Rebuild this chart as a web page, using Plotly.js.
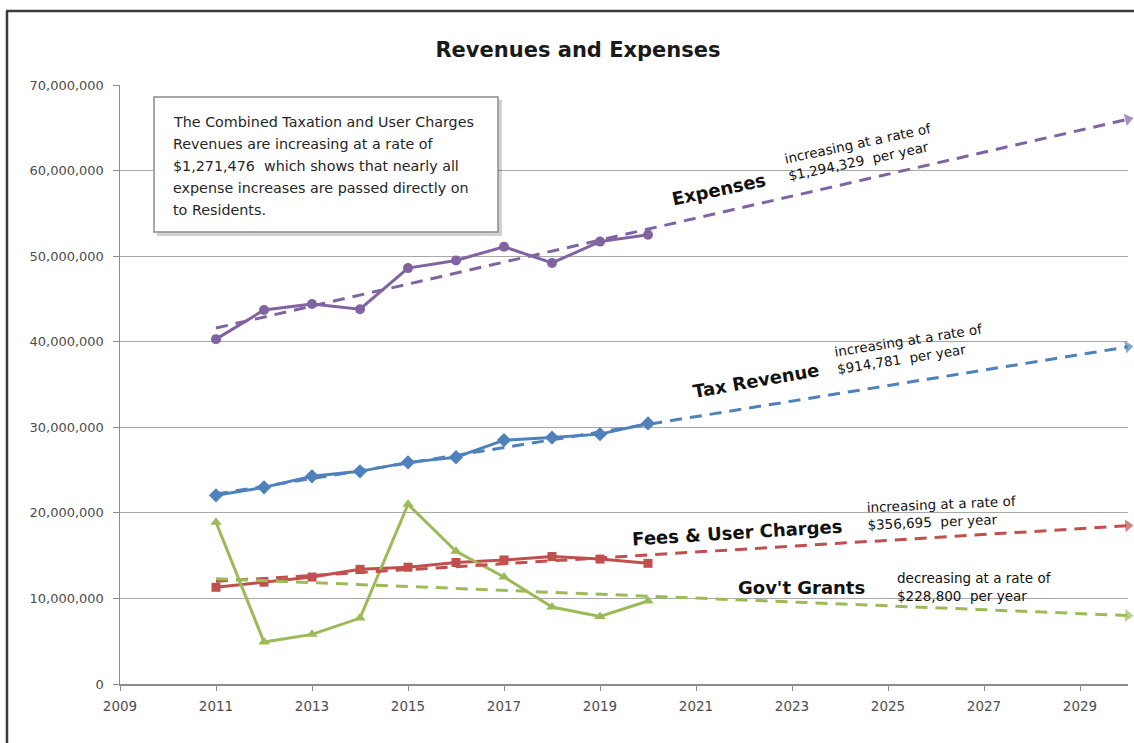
<!DOCTYPE html>
<html>
<head>
<meta charset="utf-8">
<script src="https://cdn.plot.ly/plotly-3.0.1.min.js"></script>
<style>html,body{margin:0;padding:0;background:#fff;}#chart{width:1134px;height:743px;}</style>
</head>
<body>
<div id="chart"></div>
<script>
// ---- data ----
const years = [2011, 2012, 2013, 2014, 2015, 2016, 2017, 2018, 2019, 2020];
const expenses    = [40300000, 43700000, 44400000, 43800000, 48600000, 49500000, 51100000, 49200000, 51700000, 52500000];
const taxRevenue  = [22050000, 22980000, 24270000, 24850000, 25900000, 26500000, 28500000, 28800000, 29200000, 30450000];
const feesCharges = [11300000, 11900000, 12500000, 13400000, 13650000, 14200000, 14500000, 14900000, 14600000, 14100000];
const govGrants   = [18900000, 4900000, 5800000, 7700000, 21000000, 15500000, 12500000, 9000000, 7900000, 9700000];

const trendYears    = [2011, 2030];
const expensesTrend = [41600000, 66000000];
const taxTrend      = [22200000, 39400000];
const feesTrend     = [12000000, 18500000];
const grantsTrend   = [12300000, 8000000];

const xTickVals = [2009, 2011, 2013, 2015, 2017, 2019, 2021, 2023, 2025, 2027, 2029];
const yTickVals = [0, 10000000, 20000000, 30000000, 40000000, 50000000, 60000000, 70000000];

const boxLines = [
  "The Combined Taxation and User Charges",
  "Revenues are increasing at a rate of",
  "$1,271,476  which shows that nearly all",
  "expense increases are passed directly on",
  "to Residents."
];

// ---- styling ----
const C = {purple:'#8064A2', blue:'#4F81BD', red:'#C0504D', green:'#9BBB59'};
const FONT = 'DejaVu Sans';
const L = 120, R = 1128, T = 85, B = 684;
const px = x => (x - L) / (R - L);
const py = y => (B - y) / (B - T);

function series(y, color, symbol, size) {
  return {x: years, y: y, type: 'scatter', mode: 'lines+markers',
    line: {color: color, width: 3},
    marker: {color: color, symbol: symbol, size: size, line: {width: 0}},
    hoverinfo: 'skip'};
}
function trend(y, color) {
  return {x: trendYears, y: y, type: 'scatter', mode: 'lines+markers', cliponaxis: false,
    line: {color: color, width: 3, dash: '12px,8px'},
    marker: {color: color, symbol: 'triangle-up', size: [0, 11], angleref: 'previous', line: {width: 0}},
    hoverinfo: 'skip'};
}

const data = [
  series(expenses, C.purple, 'circle', 10),
  series(taxRevenue, C.blue, 'diamond', 11),
  series(feesCharges, C.red, 'square', 9),
  series(govGrants, C.green, 'triangle-up', 10),
  trend(expensesTrend, C.purple),
  trend(taxTrend, C.blue),
  trend(feesTrend, C.red),
  trend(grantsTrend, C.green)
];

const ann = [];
function label(text, x, y, angle, size, bold, opts) {
  ann.push(Object.assign({
    text: bold ? '<b>' + text + '</b>' : text,
    xref: 'paper', yref: 'paper', x: px(x), y: py(y),
    xanchor: 'center', yanchor: 'middle', showarrow: false,
    textangle: angle, align: 'left',
    font: {family: FONT, size: size, color: '#111'}
  }, opts || {}));
}
label('Expenses', 718, 189, -12, 18, true);
label('increasing at a rate of<br>$1,294,329  per year', 860, 152, -12, 13.5, false);
label('Tax Revenue', 756, 380, -10, 18, true);
label('increasing at a rate of<br>$914,781  per year', 910, 349, -9, 13.5, false);
label('Fees &amp; User Charges', 737, 532, -3.5, 18, true);
label('increasing at a rate of<br>$356,695  per year', 942, 513, -2.5, 13.5, false);
label("Gov't Grants", 801, 587, 0, 18, true);
label('decreasing at a rate of<br>$228,800  per year', 895, 587, 0, 13.5, false, {xanchor: 'left'});

const boxY = [122, 144, 166, 188, 210];
boxLines.forEach((t, i) => {
  ann.push({text: t, xref: 'paper', yref: 'paper', x: px(171), y: py(boxY[i]),
    xanchor: 'left', yanchor: 'middle', showarrow: false, align: 'left',
    font: {family: FONT, size: 14.3, color: '#262626'}});
});

const shapes = [
  // outer frame
  {type: 'line', xref: 'paper', yref: 'paper', x0: px(7), x1: px(7), y0: py(760), y1: py(11), line: {color: '#3a3a3a', width: 2.5}},
  {type: 'line', xref: 'paper', yref: 'paper', x0: px(6), x1: px(1150), y0: py(11), y1: py(11), line: {color: '#3a3a3a', width: 2.5}},
  // text box shadow + box
  {type: 'rect', xref: 'paper', yref: 'paper', layer: 'above', x0: px(157), x1: px(502), y0: py(236), y1: py(100), fillcolor: 'rgba(0,0,0,0.18)', line: {width: 0}},
  {type: 'rect', xref: 'paper', yref: 'paper', layer: 'above', x0: px(154), x1: px(498), y0: py(232), y1: py(97), fillcolor: '#ffffff', line: {color: '#8a8a8a', width: 1.5}}
];

const layout = {
  width: 1134, height: 743,
  margin: {l: L, r: 1134 - R, t: T, b: 743 - B, pad: 0},
  paper_bgcolor: '#ffffff', plot_bgcolor: '#ffffff',
  showlegend: false,
  title: {text: '<b>Revenues and Expenses</b>', font: {family: FONT, size: 21, color: '#1a1a1a'},
    xref: 'container', yref: 'container', x: 578 / 1134, y: 1 - 50 / 743, xanchor: 'center', yanchor: 'middle'},
  xaxis: {range: [2009, 2030], tickvals: xTickVals, ticktext: xTickVals.map(String),
    showgrid: false, zeroline: false, showline: true, linecolor: '#8c8c8c', linewidth: 1.5,
    ticks: 'outside', ticklen: 5, tickcolor: '#8c8c8c', ticklabelstandoff: 4,
    tickfont: {family: FONT, size: 13.5, color: '#4d4d4d'}, fixedrange: true},
  yaxis: {range: [0, 70000000], tickvals: yTickVals, tickformat: ',.0f',
    showgrid: true, gridcolor: '#a8a8a8', gridwidth: 1, zeroline: false,
    showline: true, linecolor: '#8c8c8c', linewidth: 1.5,
    ticks: 'outside', ticklen: 6, tickcolor: '#8c8c8c', ticklabelstandoff: 6,
    tickfont: {family: FONT, size: 13, color: '#4d4d4d'}, fixedrange: true},
  annotations: ann,
  shapes: shapes
};

Plotly.newPlot('chart', data, layout, {displayModeBar: false, staticPlot: true});
</script>
</body>
</html>
